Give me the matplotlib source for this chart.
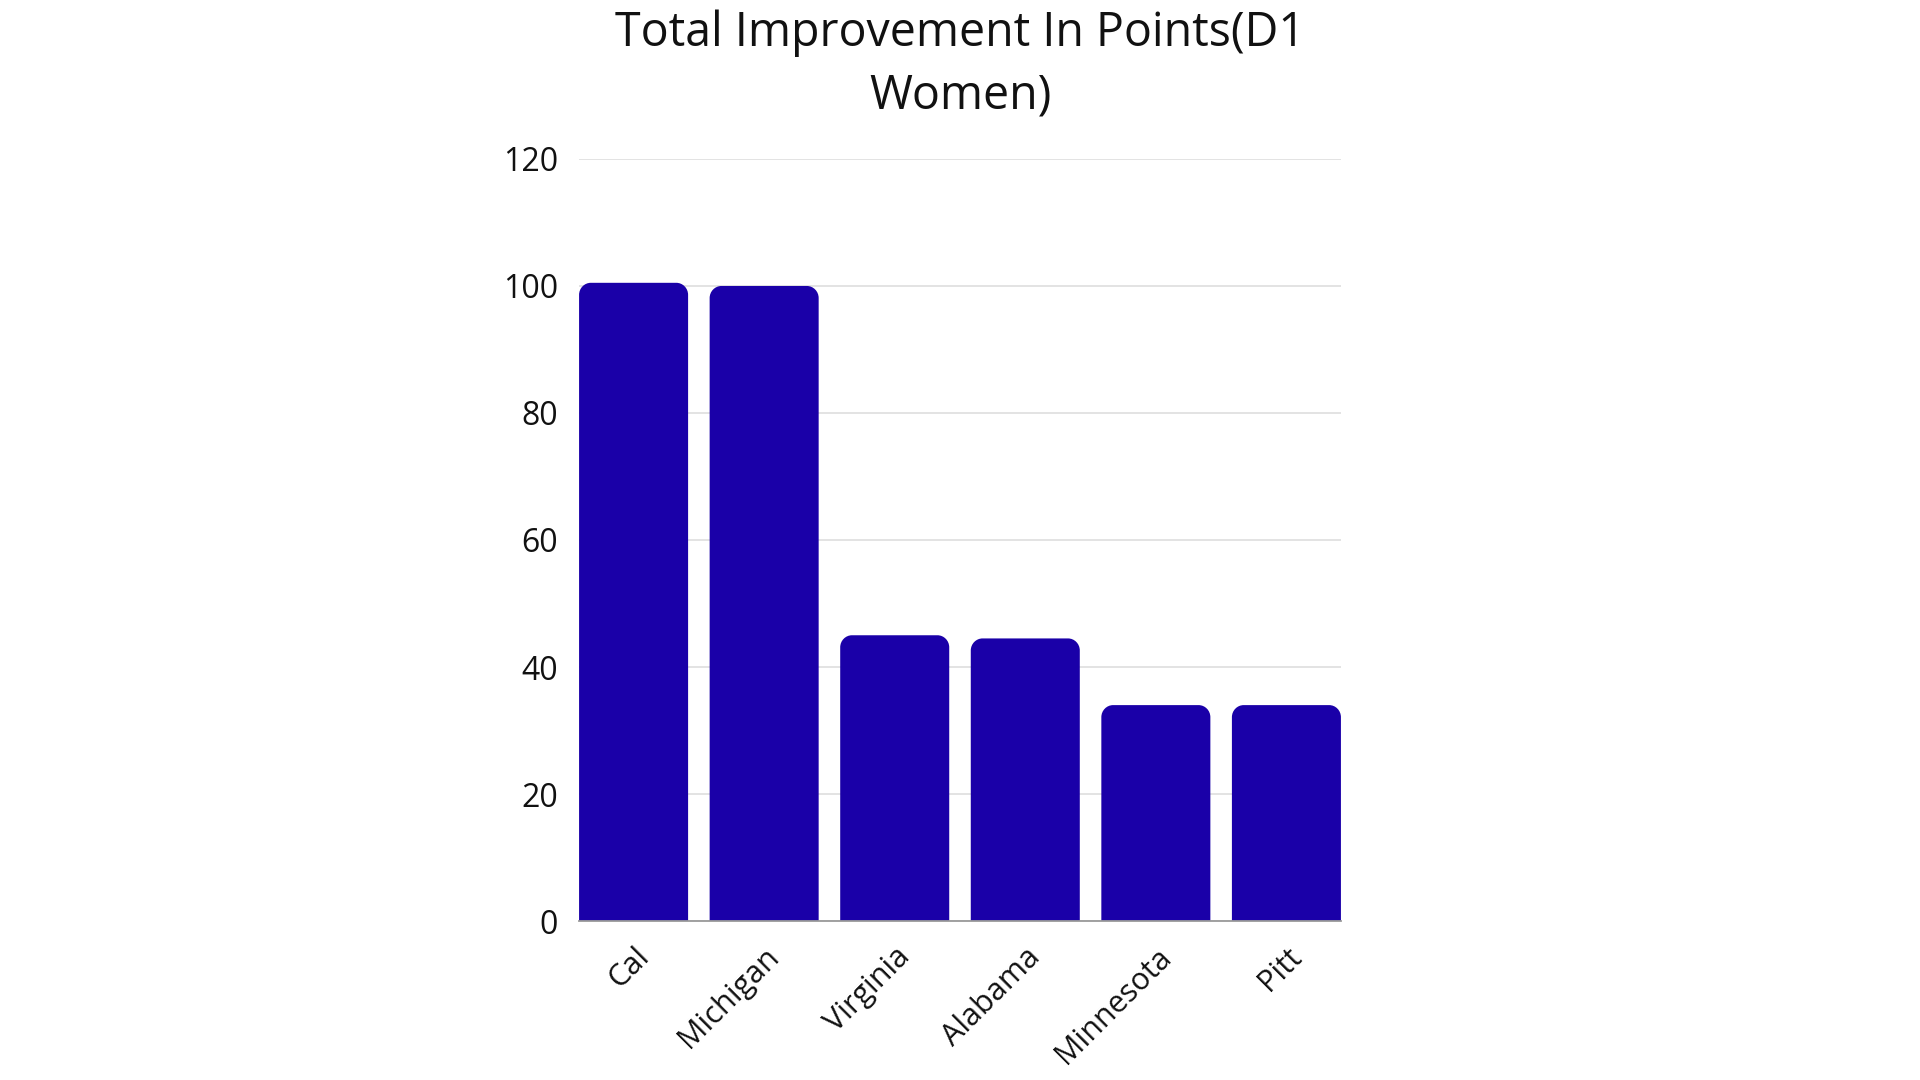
import matplotlib
matplotlib.use("Agg")
import matplotlib.pyplot as plt
from matplotlib.path import Path
from matplotlib.patches import PathPatch

plt.rcParams['font.family'] = ['Open Sans', 'DejaVu Sans']

categories = ["Cal", "Michigan", "Virginia", "Alabama", "Minnesota", "Pitt"]
values = [100.5, 100, 45, 44.5, 34, 34]
yticks = [0, 20, 40, 60, 80, 100, 120]
title = "Total Improvement In Points(D1\nWomen)"

bar_color = "#1A00A8"
fig = plt.figure(figsize=(19.2, 10.8), dpi=100)
ax = fig.add_axes([0.3016, 0.1472, 0.3968, 0.7056])

width = 0.835
bars = ax.bar(range(len(categories)), values, width=width, color=bar_color, zorder=3)
ax.set_xlim(-width / 2, len(categories) - 1 + width / 2)
ax.set_ylim(0, 120)

# replace bars with rounded-top versions
rx = 0.09
ry = 1.9
for b in bars:
    x0 = b.get_x()
    w = b.get_width()
    h = b.get_height()
    x1 = x0 + w
    k = 0.55
    verts = [
        (x0, 0), (x0, h - ry),
        (x0, h - ry + k * ry), (x0 + rx - k * rx, h), (x0 + rx, h),
        (x1 - rx, h),
        (x1 - rx + k * rx, h), (x1, h - ry + k * ry), (x1, h - ry),
        (x1, 0), (x0, 0),
    ]
    codes = [Path.MOVETO, Path.LINETO,
             Path.CURVE4, Path.CURVE4, Path.CURVE4,
             Path.LINETO,
             Path.CURVE4, Path.CURVE4, Path.CURVE4,
             Path.LINETO, Path.CLOSEPOLY]
    ax.add_patch(PathPatch(Path(verts, codes), facecolor=bar_color,
                           edgecolor='none', zorder=3))
    b.set_visible(False)

ax.set_yticks(yticks)
ax.set_yticklabels([str(t) for t in yticks], fontsize=23, color="#111111")
ax.set_xticks(range(len(categories)))
ax.set_xticklabels(categories, fontsize=22, color="#111111", rotation=45,
                   ha='right', rotation_mode='anchor')
ax.tick_params(axis='both', length=0)
ax.tick_params(axis='y', pad=15)
ax.tick_params(axis='x', pad=15)

ax.grid(axis='y', color="#e0e0e0", linewidth=1.3, zorder=0)
for s in ["top", "right", "left"]:
    ax.spines[s].set_visible(False)
ax.spines["bottom"].set_color("#9a9a9a")
ax.spines["bottom"].set_linewidth(1.3)
ax.spines["bottom"].set_zorder(4)

fig.text(0.5, 0.9405, title, ha='center', va='center', fontsize=33.5,
         color="#111111", linespacing=1.4)

fig.savefig("out.png", dpi=100, facecolor="white")
